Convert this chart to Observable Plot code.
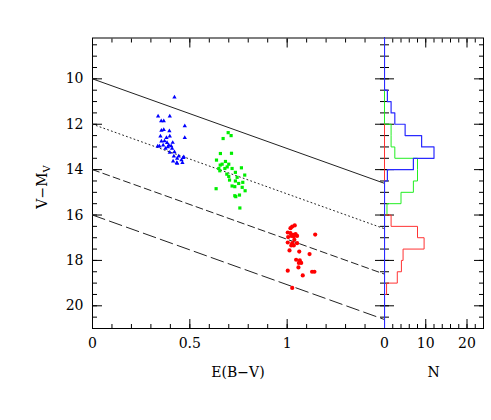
<!DOCTYPE html>
<html><head><meta charset="utf-8">
<script src="https://cdn.jsdelivr.net/npm/d3@7"></script>
<script src="https://cdn.jsdelivr.net/npm/@observablehq/plot@0.6"></script>
<style>
body{margin:0;background:#fff;}
#chart{position:relative;width:491px;height:420px;overflow:hidden;}
#chart svg{position:absolute;top:0;}
</style></head><body><div id="chart"></div>
<script>
// ---- data ----
const blueE = [0.421,0.337,0.353,0.366,0.397,0.474,0.354,0.366,0.395,0.349,0.380,0.397,0.474,0.354,0.383,0.363,0.392,0.387,0.335,0.344,0.412,0.409,0.421,0.397,0.418,0.443,0.469,0.466,0.435,0.457,0.414,0.433,0.462,0.435,0.404,0.375,0.370];
const blueV = [10.81,11.65,11.86,11.86,11.65,12.08,12.28,12.24,12.30,12.53,12.59,12.53,12.60,12.75,12.82,12.93,12.93,13.00,12.97,12.97,12.81,13.07,13.22,13.25,13.41,13.41,13.44,13.48,13.51,13.58,13.63,13.70,13.70,13.73,12.96,13.07,12.74];
const greenE = [0.697,0.712,0.671,0.657,0.714,0.637,0.683,0.666,0.700,0.692,0.649,0.680,0.717,0.765,0.654,0.690,0.743,0.782,0.704,0.734,0.751,0.717,0.769,0.635,0.784,0.731,0.736,0.755,0.757,0.772,0.731,0.734,0.656,0.700];
const greenV = [12.37,12.50,12.63,13.29,13.28,13.58,13.64,13.76,13.76,13.88,13.95,13.95,13.95,13.92,14.05,14.20,14.34,14.24,14.46,14.50,14.61,14.72,14.78,14.84,14.93,15.15,15.19,15.12,15.69,14.56,14.75,14.12,13.80,14.30];
const redE = [1.026,1.039,1.017,1.003,1.017,1.031,1.043,1.051,1.005,1.021,1.034,1.003,1.026,1.051,1.034,1.012,1.062,1.144,1.115,1.046,1.065,1.060,1.072,1.058,1.003,1.080,1.128,1.140,1.026,1.021,1.037];
const redV = [16.51,16.46,16.58,16.77,16.80,16.87,16.84,16.92,16.97,16.92,16.95,17.21,17.24,17.24,17.34,17.56,17.61,16.86,17.72,17.97,18.00,18.11,18.11,18.31,18.45,18.66,18.50,18.50,19.21,17.34,17.09];

// reddening lines: V-Mv = intercept + slope * E(B-V)
const lineIntercepts = [10, 12, 14, 16];
const lineDash = [null, "1,3", "7,4", "13,5"];
const extinctionSlope = 3.07;

// histograms of V-Mv (bin width 0.5), N values
const histBinWidth = 0.5;
const blueHistStart = 8;
const blueCounts = [0,0,0,0,0,0.7,1.6,2.5,5,9,12,7,0.7,0,0,0,0,0,0,0,0,0,0,0,0,0];
const greenHistStart = 10.5;
const greenCounts = [0,0,0,1.6,1.6,2.5,8,8,7,4,0.6];
const redHistStart = 12;
const redCounts = [0,0,0,0,0,0,0,0,1.6,8,9.6,4.5,4.1,3.1,0.5,0];

// axes
const xDomain = [0, 1.5];
const nDomain = [0, 24];
const yDomain = [8.2, 21];
const xMajor = [0, 0.5, 1, 1.5];
const xLabels = [0, 0.5, 1];
const xMinor = d3.range(0, 1.5001, 0.1);
const yMajor = [10, 12, 14, 16, 18, 20];
const yMinor = d3.range(8.5, 21.01, 0.5);
const nMajor = [0, 10, 20];
const nMinor = d3.range(0, 24.01, 2);

// ---- build ----
const pts = (E, V) => E.map((e, i) => ({e, v: V[i]}));
const steps = (start, counts) => {
  const out = [{n: 0, v: start}];
  counts.forEach((c, i) => {
    out.push({n: c, v: start + i * histBinWidth});
    out.push({n: c, v: start + (i + 1) * histBinWidth});
  });
  out.push({n: 0, v: start + counts.length * histBinWidth});
  return out;
};
const reddeningLine = c => xDomain.map(e => ({e, v: c + extinctionSlope * e}));

const FONT = "DejaVu Serif";
const H = 420, MT = 37.5, MB = 92;
const style = {fontFamily: FONT, fontSize: "14px", background: "transparent", color: "black", overflow: "visible"};
const tickAxes = (dim, anchor, ticks, size) =>
  (dim === "x" ? Plot.axisX : Plot.axisY)({anchor, ticks, tickSize: -size, fill: "none", label: null, stroke: "black"});

const left = Plot.plot({
  width: 390, height: H, marginLeft: 92, marginRight: 6, marginTop: MT, marginBottom: MB,
  x: {domain: xDomain}, y: {domain: yDomain, reverse: true},
  style,
  marks: [
    Plot.frame({stroke: "black"}),
    tickAxes("x", "bottom", xMinor, 4), tickAxes("x", "bottom", xMajor, 9),
    tickAxes("x", "top", xMinor, 4), tickAxes("x", "top", xMajor, 9),
    tickAxes("y", "left", yMinor, 5), tickAxes("y", "left", yMajor, 10),
    tickAxes("y", "right", yMinor, 5), tickAxes("y", "right", yMajor, 10),
    Plot.axisX({anchor: "bottom", ticks: xLabels, tickSize: 0, tickPadding: 10, tickFormat: d => String(d), label: null}),
    Plot.axisY({anchor: "left", ticks: yMajor, tickSize: 0, tickPadding: 9, tickFormat: d => String(d), label: null}),
    ...lineIntercepts.map((c, k) => Plot.line(reddeningLine(c), {x: "e", y: "v", stroke: "#222", strokeWidth: 1,
      strokeDasharray: lineDash[k] || undefined})),
    Plot.dot(pts(blueE, blueV), {x: "e", y: "v", symbol: "triangle", r: 1.6, fill: "blue"}),
    Plot.dot(pts(greenE, greenV), {x: "e", y: "v", symbol: "square", r: 1.8, fill: "#00ee00"}),
    Plot.dot(pts(redE, redV), {x: "e", y: "v", symbol: "circle", r: 2.1, fill: "red"})
  ]
});
left.style.left = "0px";

const right = Plot.plot({
  width: 117, height: H, marginLeft: 10, marginRight: 8, marginTop: MT, marginBottom: MB,
  x: {domain: nDomain}, y: {domain: yDomain, reverse: true},
  style,
  marks: [
    Plot.frame({stroke: "black"}),
    tickAxes("x", "bottom", nMinor, 4), tickAxes("x", "bottom", nMajor, 9),
    tickAxes("x", "top", nMinor, 4), tickAxes("x", "top", nMajor, 9),
    tickAxes("y", "left", yMinor, 5), tickAxes("y", "left", yMajor, 10),
    tickAxes("y", "right", yMinor, 5), tickAxes("y", "right", yMajor, 10),
    Plot.axisX({anchor: "bottom", ticks: nMajor, tickSize: 0, tickPadding: 10, tickFormat: d => String(d), label: null}),
    Plot.line(steps(greenHistStart, greenCounts), {x: "n", y: "v", stroke: "#22ee22", strokeWidth: 1, clip: true}),
    Plot.line(steps(redHistStart, redCounts), {x: "n", y: "v", stroke: "#ff3333", strokeWidth: 1, clip: true}),
    Plot.line(steps(blueHistStart, blueCounts), {x: "n", y: "v", stroke: "#2a2aff", strokeWidth: 1.2, clip: true})
  ]
});
right.style.left = "374px";

const chart = document.getElementById("chart");
chart.appendChild(left);
chart.appendChild(right);

// axis titles
const lsel = d3.select(left);
lsel.append("text").attr("x", 238).attr("y", 377).attr("text-anchor", "middle")
  .attr("font-family", FONT).attr("font-size", 14).attr("fill", "black").text("E(B−V)");
const yl = lsel.append("text").attr("transform", "translate(47,187) rotate(-90)")
  .attr("text-anchor", "middle").attr("font-family", FONT).attr("font-size", 14).attr("fill", "black");
yl.append("tspan").text("V−M");
yl.append("tspan").attr("font-size", 10).attr("dy", 3).text("V");
d3.select(right).append("text").attr("x", 59.5).attr("y", 377).attr("text-anchor", "middle")
  .attr("font-family", FONT).attr("font-size", 14).attr("fill", "black").text("N");
</script></body></html>
